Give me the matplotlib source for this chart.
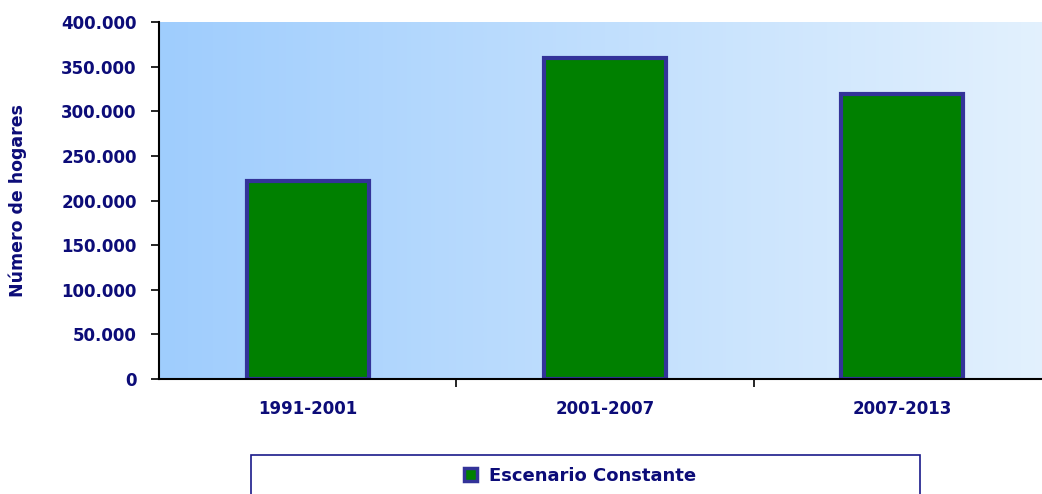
import matplotlib
matplotlib.use("Agg")
import matplotlib.pyplot as plt
import numpy as np
from matplotlib.patches import Rectangle, Patch
from matplotlib.colors import LinearSegmentedColormap

categories = ["1991-2001", "2001-2007", "2007-2013"]
values = [222000, 360000, 319000]
series_name = "Escenario Constante"
yticks = [0, 50000, 100000, 150000, 200000, 250000, 300000, 350000, 400000]
ylabel = "Número de hogares"

navy = "#0c0c78"
font = "DejaVu Sans"
W, H = 1042, 494
fig = plt.figure(figsize=(W/100, H/100), dpi=100)
left, right, top, bottom = 159, 1051, 22, 379
ax = fig.add_axes([left/W, 1 - bottom/H, (right-left)/W, (bottom-top)/H])

x = np.arange(len(categories))
ax.set_xlim(-0.5, len(categories) - 0.5)
ax.set_ylim(0, 400000)

cmap = LinearSegmentedColormap.from_list("bg", ["#9fcdfd", "#e3f1fe"])
grad = np.linspace(0, 1, 256).reshape(1, -1)
ax.imshow(grad, extent=[-0.5, len(categories) - 0.5, 0, 400000], aspect="auto",
          cmap=cmap, zorder=0, interpolation="bicubic")

ax.bar(x, values, width=0.41, color="#008000", edgecolor="#333399", linewidth=3, zorder=2)

for s in ["top", "right"]:
    ax.spines[s].set_visible(False)
ax.spines["left"].set_linewidth(1.5)
ax.spines["bottom"].set_linewidth(1.5)
ax.spines["left"].set_zorder(3)
ax.spines["bottom"].set_zorder(3)

ax.set_yticks(yticks)
ax.set_yticklabels([f"{v:,}".replace(",", ".") for v in yticks])
ax.set_xticks(x)
ax.set_xticklabels(categories)
ax.set_xticks([0.5, 1.5], minor=True)
ax.tick_params(axis="x", which="major", length=0, pad=15)
ax.tick_params(axis="x", which="minor", length=6, width=1.2, direction="out")
ax.tick_params(axis="y", length=6, width=1.2, direction="out", pad=10)
for lab in ax.get_xticklabels() + ax.get_yticklabels():
    lab.set_fontweight("bold")
    lab.set_fontsize(12)
    lab.set_color(navy)
    lab.set_family(font)

ax.set_ylabel(ylabel, fontsize=12.5, fontweight="bold", color=navy,
              family=font, labelpad=25)

fig.patches.append(Rectangle((251/W, -0.05), (920-251)/W, (1 - 455/H) + 0.05,
                             transform=fig.transFigure, facecolor="white",
                             edgecolor="#1a1a8a", linewidth=1.2))
leg = fig.legend(handles=[Patch(facecolor="#008000", edgecolor="#333399", linewidth=2.5,
                                label=series_name)],
                 loc="center", bbox_to_anchor=(580/W, 1 - 476/H), frameon=False,
                 handlelength=0.75, handleheight=0.75, handletextpad=0.65,
                 prop={"family": font, "weight": "bold", "size": 13})
for t in leg.get_texts():
    t.set_color(navy)

fig.savefig("out.png", dpi=100)
